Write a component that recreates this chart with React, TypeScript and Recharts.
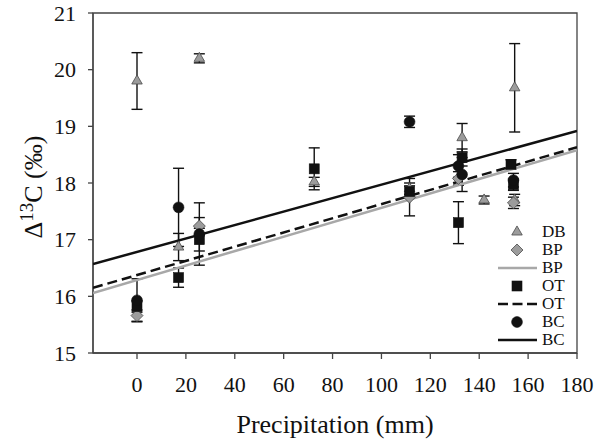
import React from 'react';
import { ScatterChart, Scatter, XAxis, YAxis, ErrorBar, ReferenceArea, Legend, Label } from 'recharts';

const xTicks = [0, 20, 40, 60, 80, 100, 120, 140, 160, 180];
const yTicks = [15, 16, 17, 18, 19, 20, 21];

const dbData = [
  { x: 0, y: 19.8, err: 0.5 },
  { x: 17, y: 16.87, err: 0.24 },
  { x: 25.5, y: 20.2, err: 0.08 },
  { x: 72.5, y: 18.02, err: 0.08 },
  { x: 111.5, y: 17.9, err: 0.1 },
  { x: 133, y: 18.8, err: 0.25 },
  { x: 142, y: 17.7, err: 0.07 },
  { x: 154.5, y: 19.68, err: 0.78 },
  { x: 154.5, y: 17.7, err: 0.1 },
];
const bpData = [
  { x: 0, y: 15.66, err: 0.1 },
  { x: 25.5, y: 17.24, err: 0.15 },
  { x: 111.5, y: 17.75, err: 0.33 },
  { x: 131.5, y: 18.08, err: 0.12 },
  { x: 154, y: 17.65, err: 0.1 },
];
const otData = [
  { x: 0, y: 15.82, err: 0.1 },
  { x: 17, y: 16.33, err: 0.17 },
  { x: 25.5, y: 17.0, err: 0.2 },
  { x: 72.5, y: 18.25, err: 0.37 },
  { x: 111.5, y: 17.85, err: 0.1 },
  { x: 131.5, y: 17.3, err: 0.37 },
  { x: 133, y: 18.45, err: 0.15 },
  { x: 153, y: 18.33, err: 0.08 },
  { x: 154, y: 17.97, err: 0.1 },
];
const bcData = [
  { x: 0, y: 15.93, err: 0.38 },
  { x: 17, y: 17.57, err: 0.69 },
  { x: 25.5, y: 17.1, err: 0.55 },
  { x: 111.5, y: 19.08, err: 0.1 },
  { x: 131.5, y: 18.3, err: 0.2 },
  { x: 133, y: 18.15, err: 0.3 },
  { x: 154, y: 18.05, err: 0.12 },
];

const bpLine = [{ x: -18, y: 16.06 }, { x: 180, y: 18.58 }];
const otLine = [{ x: -18, y: 16.15 }, { x: 180, y: 18.63 }];
const bcLine = [{ x: -18, y: 16.57 }, { x: 180, y: 18.92 }];

const legendItems = [
  { label: 'DB', kind: 'triangle' },
  { label: 'BP', kind: 'diamond' },
  { label: 'BP', kind: 'grayLine' },
  { label: 'OT', kind: 'square' },
  { label: 'OT', kind: 'dashLine' },
  { label: 'BC', kind: 'circle' },
  { label: 'BC', kind: 'solidLine' },
];

const GRAY = '#9c9c9c';
const GRAY_LINE = '#a8a8a8';
const DARK = '#111';
const SERIF = 'Liberation Serif, DejaVu Serif, serif';

const markerEl = (kind: string, cx: number, cy: number) => {
  if (kind === 'triangle') {
    const s = 10.5;
    const h = s * 0.866;
    const pts = `${cx},${cy - (h * 2) / 3} ${cx + s / 2},${cy + h / 3} ${cx - s / 2},${cy + h / 3}`;
    return <polygon points={pts} fill={GRAY} stroke="#4a4a4a" strokeWidth={0.8} />;
  }
  if (kind === 'diamond') {
    const r = 6;
    const pts = `${cx},${cy - r} ${cx + r},${cy} ${cx},${cy + r} ${cx - r},${cy}`;
    return <polygon points={pts} fill={GRAY} stroke="#4a4a4a" strokeWidth={0.8} />;
  }
  if (kind === 'square') {
    return <rect x={cx - 5} y={cy - 5} width={10} height={10} fill={DARK} stroke={DARK} strokeWidth={0.6} />;
  }
  if (kind === 'circle') {
    return <circle cx={cx} cy={cy} r={5.4} fill={DARK} stroke={DARK} strokeWidth={0.6} />;
  }
  return null;
};

const shapeFor = (kind: string) => (p: any) => {
  if (p == null || p.cx == null || p.cy == null) return <g />;
  return <g>{markerEl(kind, p.cx, p.cy)}</g>;
};

const noShape = () => <g />;

const renderLegend = () => (
  <div style={{ fontFamily: SERIF, fontSize: 17, color: DARK }}>
    {legendItems.map((it, i) => {
      let sym: React.ReactNode = null;
      if (it.kind === 'grayLine') sym = <line x1={2} y1={9} x2={41} y2={9} stroke={GRAY_LINE} strokeWidth={2.5} />;
      else if (it.kind === 'dashLine') sym = <line x1={2} y1={9} x2={41} y2={9} stroke={DARK} strokeWidth={2.5} strokeDasharray="10 4.5" />;
      else if (it.kind === 'solidLine') sym = <line x1={2} y1={9} x2={41} y2={9} stroke={DARK} strokeWidth={2.5} />;
      else sym = markerEl(it.kind, 21, 9);
      return (
        <div key={i} style={{ display: 'flex', alignItems: 'center', height: 18.1 }}>
          <svg width={42} height={18} style={{ display: 'block' }}>{sym}</svg>
          <span style={{ marginLeft: 4, lineHeight: '18px' }}>{it.label}</span>
        </div>
      );
    })}
  </div>
);

const YLabel = (props: any) => {
  const vb = props.viewBox || { x: 0, y: 13, width: 93, height: 340 };
  const bx = vb.x + 42;
  const by = vb.y + vb.height / 2 + 4;
  return (
    <text transform={`translate(${bx}, ${by}) rotate(-90)`} x={0} y={0} textAnchor="middle" style={{ fontFamily: SERIF }} fontSize={26} fill={DARK}>
      <tspan>Δ</tspan>
      <tspan dy={-9} fontSize={19}>13</tspan>
      <tspan dy={9}>C (‰)</tspan>
    </text>
  );
};

export default function App() {
  const tickStyle = { fontFamily: SERIF, fontSize: 22, fill: DARK, style: { fontFamily: SERIF } };
  return (
    <div style={{ position: 'absolute', left: 0, top: 0, width: 600, height: 445, background: '#fff', fontFamily: SERIF }}>
      <ScatterChart width={600} height={445} margin={{ top: 13, right: 23, bottom: 0, left: 0 }} style={{ fontFamily: SERIF }}>
        <XAxis
          type="number"
          dataKey="x"
          domain={[-18, 180]}
          allowDataOverflow
          ticks={xTicks}
          interval={0}
          height={92}
          tickSize={6}
          tickMargin={17}
          tick={tickStyle}
          axisLine={{ stroke: '#444', strokeWidth: 1.3 }}
          tickLine={{ stroke: '#444', strokeWidth: 1.3 }}
        >
          <Label value="Precipitation (mm)" position="insideBottom" offset={12} style={{ fontFamily: SERIF, fontSize: 26, fill: DARK }} />
        </XAxis>
        <YAxis
          type="number"
          dataKey="y"
          domain={[15, 21]}
          allowDataOverflow
          ticks={yTicks}
          interval={0}
          width={93}
          tickSize={5}
          tickMargin={12}
          tick={tickStyle}
          axisLine={{ stroke: '#444', strokeWidth: 1.3 }}
          tickLine={{ stroke: '#444', strokeWidth: 1.3 }}
        >
          <Label content={YLabel} />
        </YAxis>
        <ReferenceArea x1={-18} x2={180} y1={15} y2={21} fill="none" stroke="#444" strokeWidth={1.3} ifOverflow="visible" />
        <Scatter name="BP fit" data={bpLine} line={{ stroke: GRAY_LINE, strokeWidth: 2.5 }} shape={noShape} legendType="none" isAnimationActive={false} />
        <Scatter name="OT fit" data={otLine} line={{ stroke: DARK, strokeWidth: 2.5, strokeDasharray: '10 5' }} shape={noShape} legendType="none" isAnimationActive={false} />
        <Scatter name="BC fit" data={bcLine} line={{ stroke: DARK, strokeWidth: 2.5 }} shape={noShape} legendType="none" isAnimationActive={false} />
        <Scatter name="DB" data={dbData} shape={shapeFor('triangle')} isAnimationActive={false}>
          <ErrorBar dataKey="err" direction="y" width={5.5} stroke={DARK} strokeWidth={1.4} />
        </Scatter>
        <Scatter name="BP" data={bpData} shape={shapeFor('diamond')} isAnimationActive={false}>
          <ErrorBar dataKey="err" direction="y" width={5.5} stroke={DARK} strokeWidth={1.4} />
        </Scatter>
        <Scatter name="OT" data={otData} shape={shapeFor('square')} isAnimationActive={false}>
          <ErrorBar dataKey="err" direction="y" width={5.5} stroke={DARK} strokeWidth={1.4} />
        </Scatter>
        <Scatter name="BC" data={bcData} shape={shapeFor('circle')} isAnimationActive={false}>
          <ErrorBar dataKey="err" direction="y" width={5.5} stroke={DARK} strokeWidth={1.4} />
        </Scatter>
        <Legend
          content={renderLegend}
          layout="horizontal"
          verticalAlign="middle"
          align="center"
          wrapperStyle={{ position: 'absolute', left: 496, top: 222.6, width: 80 }}
        />
      </ScatterChart>
    </div>
  );
}
